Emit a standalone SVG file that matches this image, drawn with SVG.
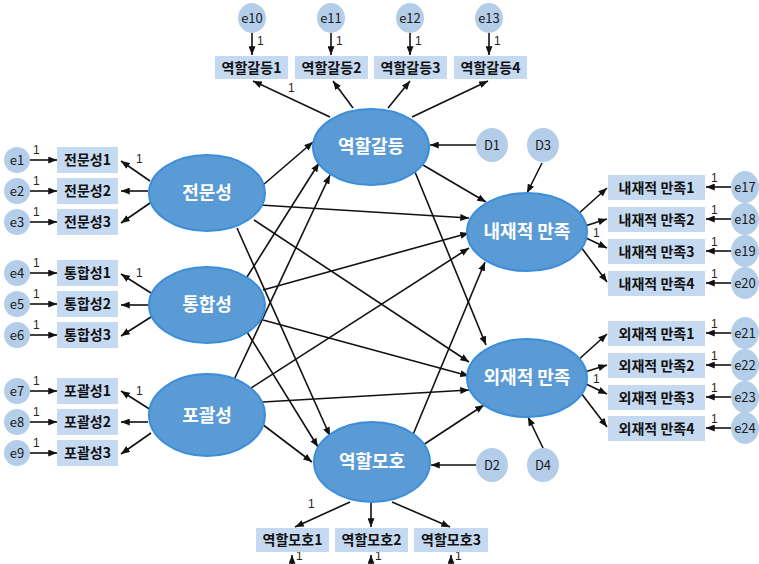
<svg xmlns="http://www.w3.org/2000/svg" width="759" height="564" viewBox="0 0 759 564">
<style>
.lat{fill:#5B9BD5;stroke:#3B8EDB;stroke-width:2}
.lt{font-family:"Noto Sans CJK KR","Liberation Sans",sans-serif;font-size:18px;font-weight:bold;fill:#fff;text-anchor:middle}
.err{fill:#B4CEEA}
.et{font-family:"Noto Sans CJK KR","Liberation Sans",sans-serif;font-size:13px;fill:#1a1a1a;text-anchor:middle}
.box{fill:#C5D9F1}
.bt{font-family:"Noto Sans CJK KR","Liberation Sans",sans-serif;font-size:14px;font-weight:bold;fill:#111;text-anchor:middle}
.one{font-family:"Liberation Sans",sans-serif;font-size:12px;fill:#2b2416}
.c line{stroke:#111;stroke-width:1.6;marker-end:url(#ah)}
</style>
<defs>
<marker id="ah" markerUnits="userSpaceOnUse" viewBox="0 0 10 8" markerWidth="9" markerHeight="7" refX="10" refY="4" orient="auto"><path d="M0,0 L10,4 L0,8 z" fill="#111"/></marker>
</defs>

<g id="connectors" class="c">
<line x1="30" y1="160" x2="57" y2="160"/>
<line x1="30" y1="191" x2="57" y2="191"/>
<line x1="30" y1="222" x2="57" y2="222"/>
<line x1="30" y1="273" x2="57" y2="273"/>
<line x1="30" y1="304" x2="57" y2="304"/>
<line x1="30" y1="335" x2="57" y2="335"/>
<line x1="30" y1="391" x2="57" y2="391"/>
<line x1="30" y1="422" x2="57" y2="422"/>
<line x1="30" y1="453" x2="57" y2="453"/>
<line x1="150" y1="181" x2="121" y2="161"/>
<line x1="148" y1="191" x2="121" y2="191"/>
<line x1="150" y1="203" x2="121" y2="223"/>
<line x1="151" y1="293" x2="121" y2="274"/>
<line x1="148" y1="305" x2="121" y2="305"/>
<line x1="151" y1="317" x2="121" y2="336"/>
<line x1="151" y1="410" x2="121" y2="391"/>
<line x1="148" y1="422" x2="121" y2="422"/>
<line x1="151" y1="433" x2="121" y2="454"/>
<line x1="252" y1="33" x2="252" y2="55"/>
<line x1="331" y1="33" x2="331" y2="55"/>
<line x1="410" y1="33" x2="410" y2="55"/>
<line x1="489" y1="33" x2="489" y2="55"/>
<line x1="330" y1="117" x2="253" y2="81"/>
<line x1="353" y1="108" x2="333" y2="81"/>
<line x1="388" y1="108" x2="410" y2="81"/>
<line x1="412" y1="117" x2="488" y2="81"/>
<line x1="476" y1="145" x2="430" y2="145"/>
<line x1="542" y1="163" x2="527" y2="193"/>
<line x1="476" y1="465" x2="431" y2="465"/>
<line x1="543" y1="448" x2="528" y2="417"/>
<line x1="263" y1="185" x2="313" y2="142"/>
<line x1="260" y1="205" x2="469" y2="218"/>
<line x1="254" y1="220" x2="469" y2="362"/>
<line x1="237" y1="228" x2="330" y2="436"/>
<line x1="247" y1="277" x2="319" y2="163"/>
<line x1="263" y1="290" x2="469" y2="233"/>
<line x1="263" y1="320" x2="469" y2="376"/>
<line x1="247" y1="332" x2="318" y2="447"/>
<line x1="233" y1="382" x2="330" y2="175"/>
<line x1="248" y1="390" x2="469" y2="248"/>
<line x1="263" y1="402" x2="469" y2="390"/>
<line x1="262" y1="424" x2="312" y2="462"/>
<line x1="423" y1="165" x2="486" y2="202"/>
<line x1="415" y1="172" x2="486" y2="345"/>
<line x1="412" y1="437" x2="485" y2="262"/>
<line x1="423" y1="445" x2="484" y2="405"/>
<line x1="577" y1="215" x2="607" y2="188"/>
<line x1="585" y1="226" x2="607" y2="219"/>
<line x1="584" y1="237" x2="607" y2="248"/>
<line x1="581" y1="247" x2="607" y2="282"/>
<line x1="577" y1="361" x2="607" y2="334"/>
<line x1="585" y1="372" x2="607" y2="365"/>
<line x1="584" y1="383" x2="607" y2="394"/>
<line x1="581" y1="393" x2="607" y2="427"/>
<line x1="731" y1="187" x2="706" y2="187"/>
<line x1="731" y1="219" x2="706" y2="219"/>
<line x1="731" y1="251" x2="706" y2="251"/>
<line x1="731" y1="283" x2="706" y2="283"/>
<line x1="731" y1="333" x2="706" y2="333"/>
<line x1="731" y1="365" x2="706" y2="365"/>
<line x1="731" y1="397" x2="706" y2="397"/>
<line x1="731" y1="428" x2="706" y2="428"/>
<line x1="350" y1="502" x2="295" y2="527"/>
<line x1="371" y1="503" x2="371" y2="527"/>
<line x1="392" y1="502" x2="450" y2="527"/>
<line x1="292" y1="566" x2="292" y2="555"/>
<line x1="371" y1="566" x2="371" y2="555"/>
<line x1="451" y1="566" x2="451" y2="555"/>
</g>

<g id="labels-1" class="one">
<text x="33" y="154">1</text><text x="33" y="185">1</text><text x="33" y="216">1</text>
<text x="33" y="267">1</text><text x="33" y="298">1</text><text x="33" y="329">1</text>
<text x="33" y="385">1</text><text x="33" y="416">1</text><text x="33" y="447">1</text>
<text x="136" y="163">1</text><text x="136" y="277">1</text><text x="136" y="395">1</text>
<text x="257" y="45">1</text><text x="336" y="45">1</text><text x="415" y="45">1</text><text x="494" y="45">1</text>
<text x="288" y="92">1</text>
<text x="711" y="182">1</text><text x="711" y="214">1</text><text x="711" y="246">1</text><text x="711" y="278">1</text>
<text x="711" y="328">1</text><text x="711" y="360">1</text><text x="711" y="392">1</text><text x="711" y="423">1</text>
<text x="593" y="237">1</text><text x="593" y="383">1</text>
<text x="308" y="508">1</text>
<text x="296" y="560">1</text><text x="375" y="560">1</text><text x="455" y="560">1</text>
</g>

<g id="e1"><ellipse class="err" cx="17" cy="160" rx="13" ry="13"/><text class="et" x="17" y="165">e1</text></g>
<g id="e2"><ellipse class="err" cx="17" cy="191" rx="13" ry="13"/><text class="et" x="17" y="196">e2</text></g>
<g id="e3"><ellipse class="err" cx="17" cy="222" rx="13" ry="13"/><text class="et" x="17" y="227">e3</text></g>
<g id="e4"><ellipse class="err" cx="17" cy="273" rx="13" ry="13"/><text class="et" x="17" y="278">e4</text></g>
<g id="e5"><ellipse class="err" cx="17" cy="304" rx="13" ry="13"/><text class="et" x="17" y="309">e5</text></g>
<g id="e6"><ellipse class="err" cx="17" cy="335" rx="13" ry="13"/><text class="et" x="17" y="340">e6</text></g>
<g id="e7"><ellipse class="err" cx="17" cy="391" rx="13" ry="13"/><text class="et" x="17" y="396">e7</text></g>
<g id="e8"><ellipse class="err" cx="17" cy="422" rx="13" ry="13"/><text class="et" x="17" y="427">e8</text></g>
<g id="e9"><ellipse class="err" cx="17" cy="453" rx="13" ry="13"/><text class="et" x="17" y="458">e9</text></g>

<g id="x1"><rect class="box" x="57" y="147" width="61" height="26"/><text class="bt" x="87.5" y="165">전문성1</text></g>
<g id="x2"><rect class="box" x="57" y="178" width="61" height="26"/><text class="bt" x="87.5" y="196">전문성2</text></g>
<g id="x3"><rect class="box" x="57" y="209" width="61" height="26"/><text class="bt" x="87.5" y="227">전문성3</text></g>
<g id="x4"><rect class="box" x="57" y="260" width="61" height="26"/><text class="bt" x="87.5" y="278">통합성1</text></g>
<g id="x5"><rect class="box" x="57" y="291" width="61" height="26"/><text class="bt" x="87.5" y="309">통합성2</text></g>
<g id="x6"><rect class="box" x="57" y="322" width="61" height="26"/><text class="bt" x="87.5" y="340">통합성3</text></g>
<g id="x7"><rect class="box" x="57" y="378" width="61" height="26"/><text class="bt" x="87.5" y="396">포괄성1</text></g>
<g id="x8"><rect class="box" x="57" y="409" width="61" height="26"/><text class="bt" x="87.5" y="427">포괄성2</text></g>
<g id="x9"><rect class="box" x="57" y="440" width="61" height="26"/><text class="bt" x="87.5" y="458">포괄성3</text></g>

<g id="e10"><ellipse class="err" cx="252" cy="18" rx="14" ry="15"/><text class="et" x="252" y="23">e10</text></g>
<g id="e11"><ellipse class="err" cx="331" cy="18" rx="14" ry="15"/><text class="et" x="331" y="23">e11</text></g>
<g id="e12"><ellipse class="err" cx="410" cy="18" rx="14" ry="15"/><text class="et" x="410" y="23">e12</text></g>
<g id="e13"><ellipse class="err" cx="489" cy="18" rx="14" ry="15"/><text class="et" x="489" y="23">e13</text></g>

<g id="y1"><rect class="box" x="215" y="56" width="73" height="23"/><text class="bt" x="251.5" y="72.5">역할갈등1</text></g>
<g id="y2"><rect class="box" x="295" y="56" width="73" height="23"/><text class="bt" x="331.5" y="72.5">역할갈등2</text></g>
<g id="y3"><rect class="box" x="374" y="56" width="73" height="23"/><text class="bt" x="410.5" y="72.5">역할갈등3</text></g>
<g id="y4"><rect class="box" x="454" y="56" width="73" height="23"/><text class="bt" x="490.5" y="72.5">역할갈등4</text></g>

<g id="z1"><rect class="box" x="256" y="528" width="73" height="24"/><text class="bt" x="292.5" y="545">역할모호1</text></g>
<g id="z2"><rect class="box" x="335" y="528" width="73" height="24"/><text class="bt" x="371.5" y="545">역할모호2</text></g>
<g id="z3"><rect class="box" x="414" y="528" width="74" height="24"/><text class="bt" x="451" y="545">역할모호3</text></g>

<g id="w1"><rect class="box" x="608" y="175" width="97" height="25"/><text class="bt" x="656.5" y="192.5">내재적 만족1</text></g>
<g id="w2"><rect class="box" x="608" y="207" width="97" height="25"/><text class="bt" x="656.5" y="224.5">내재적 만족2</text></g>
<g id="w3"><rect class="box" x="608" y="239" width="97" height="25"/><text class="bt" x="656.5" y="256.5">내재적 만족3</text></g>
<g id="w4"><rect class="box" x="608" y="271" width="97" height="25"/><text class="bt" x="656.5" y="288.5">내재적 만족4</text></g>
<g id="v1"><rect class="box" x="608" y="321" width="97" height="25"/><text class="bt" x="656.5" y="338.5">외재적 만족1</text></g>
<g id="v2"><rect class="box" x="608" y="353" width="97" height="25"/><text class="bt" x="656.5" y="370.5">외재적 만족2</text></g>
<g id="v3"><rect class="box" x="608" y="385" width="97" height="25"/><text class="bt" x="656.5" y="402.5">외재적 만족3</text></g>
<g id="v4"><rect class="box" x="608" y="416" width="97" height="25"/><text class="bt" x="656.5" y="433.5">외재적 만족4</text></g>

<g id="e17"><ellipse class="err" cx="745" cy="187" rx="14" ry="16"/><text class="et" x="745" y="192">e17</text></g>
<g id="e18"><ellipse class="err" cx="745" cy="219" rx="14" ry="16"/><text class="et" x="745" y="224">e18</text></g>
<g id="e19"><ellipse class="err" cx="745" cy="251" rx="14" ry="16"/><text class="et" x="745" y="256">e19</text></g>
<g id="e20"><ellipse class="err" cx="745" cy="283" rx="14" ry="16"/><text class="et" x="745" y="288">e20</text></g>
<g id="e21"><ellipse class="err" cx="745" cy="333" rx="14" ry="16"/><text class="et" x="745" y="338">e21</text></g>
<g id="e22"><ellipse class="err" cx="745" cy="365" rx="14" ry="16"/><text class="et" x="745" y="370">e22</text></g>
<g id="e23"><ellipse class="err" cx="745" cy="397" rx="14" ry="16"/><text class="et" x="745" y="402">e23</text></g>
<g id="e24"><ellipse class="err" cx="745" cy="428" rx="14" ry="16"/><text class="et" x="745" y="433">e24</text></g>

<g id="D1"><ellipse class="err" cx="492" cy="145" rx="16" ry="17"/><text class="et" x="492" y="150">D1</text></g>
<g id="D3"><ellipse class="err" cx="543" cy="145" rx="16" ry="17"/><text class="et" x="543" y="150">D3</text></g>
<g id="D2"><ellipse class="err" cx="492" cy="465" rx="16" ry="17"/><text class="et" x="492" y="470">D2</text></g>
<g id="D4"><ellipse class="err" cx="543" cy="465" rx="16" ry="17"/><text class="et" x="543" y="470">D4</text></g>

<g id="expertise"><ellipse class="lat" cx="207" cy="193" rx="58" ry="38"/><text class="lt" x="207" y="199">전문성</text></g>
<g id="integration"><ellipse class="lat" cx="207" cy="305" rx="58" ry="38"/><text class="lt" x="207" y="311">통합성</text></g>
<g id="inclusiveness"><ellipse class="lat" cx="207" cy="415" rx="58" ry="41"/><text class="lt" x="207" y="422">포괄성</text></g>
<g id="role-conflict"><ellipse class="lat" cx="371" cy="147" rx="58" ry="38"/><text class="lt" x="371" y="153">역할갈등</text></g>
<g id="role-ambiguity"><ellipse class="lat" cx="372" cy="462" rx="58" ry="40"/><text class="lt" x="372" y="468">역할모호</text></g>
<g id="intrinsic"><ellipse class="lat" cx="527" cy="232" rx="60" ry="39"/><text class="lt" x="527" y="238">내재적 만족</text></g>
<g id="extrinsic"><ellipse class="lat" cx="527" cy="378" rx="60" ry="39"/><text class="lt" x="527" y="384">외재적 만족</text></g>
</svg>
